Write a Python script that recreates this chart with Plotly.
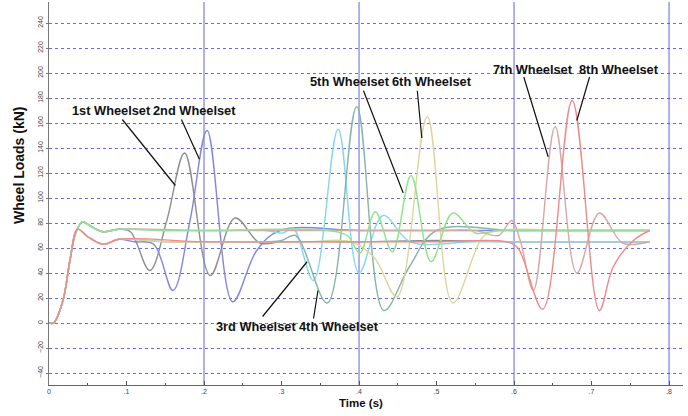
import plotly.graph_objects as go

# ---- data (time in s, load in kN) ----
T1 = [0, 0.006, 0.018, 0.027, 0.034, 0.043, 0.055, 0.07, 0.09, 0.105, 0.13, 0.152, 0.175, 0.208, 0.24, 0.272, 0.3, 0.4, 0.5, 0.6, 0.7, 0.775]
V1 = [0, 0, 18, 50, 71, 81, 77, 73, 75, 73, 42, 82, 136, 38, 84, 64, 65, 65, 66, 65, 65, 65]

T2 = [0, 0.006, 0.018, 0.027, 0.037, 0.05, 0.07, 0.09, 0.11, 0.135, 0.16, 0.182, 0.204, 0.237, 0.268, 0.298, 0.4, 0.5, 0.6, 0.7, 0.775]
V2 = [0, 0, 18, 50, 75, 69, 63, 67, 65, 63, 26, 82, 154, 17, 58, 74, 74, 74, 74, 74, 74]

T3 = [0, 0.006, 0.018, 0.027, 0.034, 0.043, 0.055, 0.07, 0.09, 0.15, 0.22, 0.28, 0.302, 0.315, 0.341, 0.373, 0.40, 0.431, 0.466, 0.55, 0.65, 0.775]
V3 = [0, 0, 18, 50, 71, 81, 77, 73, 75, 74, 74, 74, 72, 76, 34, 155, 40, 86, 65, 65, 65, 65]

T4 = [0, 0.006, 0.018, 0.027, 0.037, 0.05, 0.07, 0.09, 0.15, 0.22, 0.28, 0.30, 0.318, 0.359, 0.397, 0.432, 0.465, 0.50, 0.6, 0.7, 0.775]
V4 = [0, 0, 18, 50, 75, 69, 63, 67, 65, 65, 65, 66, 70, 16, 173, 10, 45, 74, 74, 74, 74]

T5 = [0, 0.006, 0.018, 0.027, 0.034, 0.043, 0.055, 0.07, 0.09, 0.15, 0.22, 0.29, 0.36, 0.385, 0.401, 0.421, 0.443, 0.467, 0.493, 0.521, 0.55, 0.58, 0.68, 0.775]
V5 = [0, 0, 18, 50, 71, 81, 77, 73, 75, 74, 74, 75, 74, 70, 56, 89, 57, 118, 49, 88, 72, 74, 74, 74]

T6 = [0, 0.006, 0.018, 0.027, 0.037, 0.05, 0.07, 0.09, 0.15, 0.25, 0.33, 0.39, 0.42, 0.449, 0.488, 0.521, 0.56, 0.58, 0.68, 0.775]
V6 = [0, 0, 18, 50, 75, 69, 63, 67, 65, 65, 65, 65, 52, 21, 165, 16, 69, 74, 74, 74]

T7 = [0, 0.006, 0.018, 0.027, 0.034, 0.043, 0.055, 0.07, 0.09, 0.2, 0.3, 0.4, 0.5, 0.55, 0.58, 0.597, 0.608, 0.625, 0.653, 0.681, 0.71, 0.74, 0.775]
V7 = [0, 0, 18, 50, 71, 81, 77, 73, 75, 74, 74, 74, 74, 74, 70, 82, 66, 26, 157, 40, 88, 64, 65]

T8 = [0, 0.006, 0.018, 0.027, 0.037, 0.05, 0.07, 0.09, 0.2, 0.3, 0.4, 0.5, 0.59, 0.605, 0.637, 0.675, 0.71, 0.728, 0.754, 0.775]
V8 = [0, 0, 18, 50, 75, 69, 63, 67, 65, 65, 65, 65, 65, 60, 11, 178, 10, 45, 66, 74]

NAMES = ["1st Wheelset", "2nd Wheelset", "3rd Wheelset", "4th Wheelset",
         "5th Wheelset", "6th Wheelset", "7th Wheelset", "8th Wheelset"]
COLORS = ["#8e8e8e", "#8286e2", "#86d6ef", "#86b4a8",
          "#8ee48e", "#dad6a0", "#d8a8a4", "#f2888a"]
SERIES_T = [T1, T2, T3, T4, T5, T6, T7, T8]
SERIES_V = [V1, V2, V3, V4, V5, V6, V7, V8]
DRAW_ORDER = [0, 1, 2, 3, 5, 6, 4, 7]

# label positions (t, v) and leader lines (start t, start v, end t, end v)
LABEL_POS = [(0.080, 170), (0.188, 170), (0.267, -2.4), (0.374, -2.4),
             (0.388, 193), (0.494, 193), (0.625, 203), (0.735, 203)]
LEADERS = [(0.093, 164, 0.163, 110), (0.170, 164, 0.194, 131),
           (0.274, 4, 0.333, 49), (0.341, 2.4, 0.347, 26),
           (0.405, 187, 0.457, 104), (0.475, 187, 0.481, 148),
           (0.612, 198, 0.644, 133), (0.698, 198, 0.681, 162)]

X_TICKS = [0, 0.1, 0.2, 0.3, 0.4, 0.5, 0.6, 0.7, 0.8]
X_TICK_TEXT = ["0", ".1", ".2", ".3", ".4", ".5", ".6", ".7", ".8"]
Y_TICKS = [-40, -20, 0, 20, 40, 60, 80, 100, 120, 140, 160, 180, 200, 220, 240]
GRID_X = [0.2, 0.4, 0.6, 0.8]

FONT = "Liberation Sans, Arial, sans-serif"

fig = go.Figure()
for i in DRAW_ORDER:
    fig.add_trace(go.Scatter(
        x=SERIES_T[i], y=SERIES_V[i], mode="lines", name=NAMES[i],
        line=dict(color=COLORS[i], width=1.4, shape="spline", smoothing=1),
        hoverinfo="skip"))

shapes = []
for gx in GRID_X:
    shapes.append(dict(type="line", xref="x", yref="paper", x0=gx, x1=gx, y0=0, y1=1,
                       line=dict(color="#6464e0", width=1), layer="below"))

annotations = []
for name, (lt, lv) in zip(NAMES, LABEL_POS):
    annotations.append(dict(x=lt, y=lv, xref="x", yref="y", text="<b>%s</b>" % name,
                            showarrow=False, xanchor="center", yanchor="middle",
                            font=dict(family=FONT, size=12.8, color="#111")))
for (st, sv, et, ev) in LEADERS:
    annotations.append(dict(x=et, y=ev, ax=st, ay=sv, xref="x", yref="y", axref="x", ayref="y",
                            text="", showarrow=True, arrowhead=0, arrowwidth=1.2,
                            arrowcolor="#111", standoff=0, startstandoff=0))
annotations.append(dict(x=-0.0473, y=0.572, xref="paper", yref="paper",
                        xanchor="center", yanchor="middle",
                        text="<b>Wheel Loads (kN)</b>", textangle=-90, showarrow=False,
                        font=dict(family=FONT, size=14, color="#111")))
annotations.append(dict(x=0.492, y=-0.047, xref="paper", yref="paper",
                        xanchor="center", yanchor="middle",
                        text="<b>Time (s)</b>", showarrow=False,
                        font=dict(family=FONT, size=11.5, color="#111")))

fig.update_layout(
    width=688, height=416,
    margin=dict(l=49, r=5, t=2, b=31),
    plot_bgcolor="white", paper_bgcolor="white",
    showlegend=False,
    shapes=shapes, annotations=annotations,
    xaxis=dict(range=[0, 0.818], tickmode="array", tickvals=X_TICKS, ticktext=X_TICK_TEXT,
               ticks="inside", ticklen=4, tickcolor="#555", showline=True, linecolor="#666",
               linewidth=1, showgrid=False, zeroline=False,
               tickfont=dict(family=FONT, size=7, color="#444"),
               minor=dict(tickmode="linear", tick0=0, dtick=0.05, ticks="inside",
                          ticklen=2, tickcolor="#555", showgrid=False)),
    yaxis=dict(range=[-49.6, 256.8], tickmode="array", tickvals=Y_TICKS,
               showgrid=True, gridcolor="#6a6ad8", griddash="dot", gridwidth=1,
               tickangle=-90, tickfont=dict(family=FONT, size=7, color="#444"),
               showline=True, linecolor="#777", linewidth=1, zeroline=False,
               ticks="outside", ticklen=2, tickcolor="#777"),
)

fig.write_html("out.html", config={"displayModeBar": False},
               post_script="document.body.style.margin='0';document.body.style.padding='0';"
                           "document.documentElement.style.overflow='hidden';")
